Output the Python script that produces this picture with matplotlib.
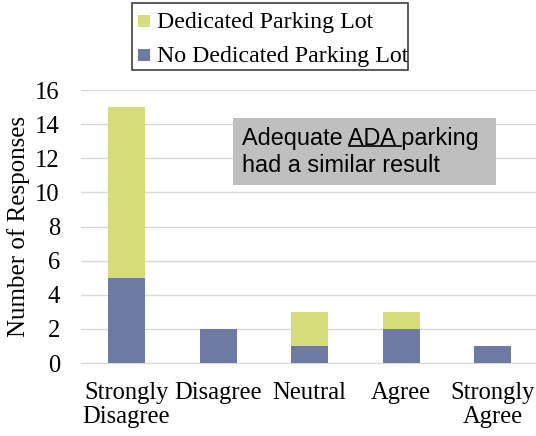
import matplotlib.pyplot as plt
import numpy as np

categories = ["Strongly\nDisagree", "Disagree", "Neutral", "Agree", "Strongly\nAgree"]
no_dedicated = [5, 2, 1, 2, 1]
dedicated = [10, 0, 2, 1, 0]
series_names = ["Dedicated Parking Lot", "No Dedicated Parking Lot"]

blue = "#6f7aa3"
green = "#d6dc7a"

W, H = 536, 436
fig = plt.figure(figsize=(5.36, 4.36), dpi=100)
ax = fig.add_axes([0.1506, 0.1674, 0.854, 0.626])

x = np.arange(len(categories))
b1 = ax.bar(x, no_dedicated, width=0.405, color=blue, zorder=3)
b2 = ax.bar(x, dedicated, width=0.405, bottom=no_dedicated, color=green, zorder=3)

ax.set_xlim(-0.5, 4.5)
ax.set_ylim(0, 16)
ax.set_yticks(range(0, 17, 2))
ax.set_xticks(x)
ax.set_xticklabels(categories, fontsize=17.7, family="Liberation Serif", linespacing=1.12)
ax.tick_params(axis="y", labelsize=17.7, length=0, pad=15)
ax.tick_params(axis="x", length=0, pad=14)
for lab in ax.get_yticklabels():
    lab.set_family("Liberation Serif")
ax.yaxis.grid(True, color="#d9d9d9", linewidth=1, zorder=0)
for s in ["top", "right", "left"]:
    ax.spines[s].set_visible(False)
ax.spines["bottom"].set_color("#d9d9d9")
ax.set_ylabel("Number of Responses", fontsize=18, family="Liberation Serif")
ax.yaxis.set_label_coords(-(80 - 29) / 458, 0.5)

# legend drawn by hand (box with square markers)
fig.patches.append(plt.Rectangle((132 / W, 1 - 70 / H), 276 / W, 67 / H,
                                  transform=fig.transFigure, facecolor="white",
                                  edgecolor="#404040", linewidth=1.2, zorder=4))
for name, col, base, sq_top in [(series_names[0], green, 28, 15), (series_names[1], blue, 62, 49)]:
    fig.patches.append(plt.Rectangle((138 / W, 1 - (sq_top + 12) / H), 12 / W, 12 / H,
                                      transform=fig.transFigure, facecolor=col,
                                      edgecolor="none", zorder=5))
    fig.text(157 / W, 1 - base / H, name, fontsize=17.2, family="Liberation Serif",
             va="baseline", ha="left", zorder=6)

# gray note box
fig.patches.append(plt.Rectangle((233 / W, 1 - 185 / H), 263 / W, 67 / H,
                                  transform=fig.transFigure, facecolor="#bfbfbf",
                                  edgecolor="none", zorder=5))
line1_y = 1 - 138 / H
line2_y = 1 - 165 / H
tx = 242 / W
t1 = fig.text(tx, line1_y, "Adequate ADA parking", fontsize=16.9, family="Liberation Sans",
              va="center", ha="left", zorder=6)
fig.text(tx, line2_y, "had a similar result", fontsize=16.9, family="Liberation Sans",
         va="center", ha="left", zorder=6)

# underline "ADA "
fig.canvas.draw()
r = fig.canvas.get_renderer()
tmp = fig.text(tx, line1_y, "Adequate ", fontsize=16.9, family="Liberation Sans")
w0 = tmp.get_window_extent(r).width
tmp.set_text("Adequate ADA ")
w1 = tmp.get_window_extent(r).width
tmp.remove()
bb = t1.get_window_extent(r)
uy = bb.y0 + 3
fig.add_artist(plt.Line2D([bb.x0 + w0, bb.x0 + w1], [uy, uy], transform=None,
                          color="black", linewidth=1.2, zorder=7))

fig.savefig("out.png", dpi=100)
